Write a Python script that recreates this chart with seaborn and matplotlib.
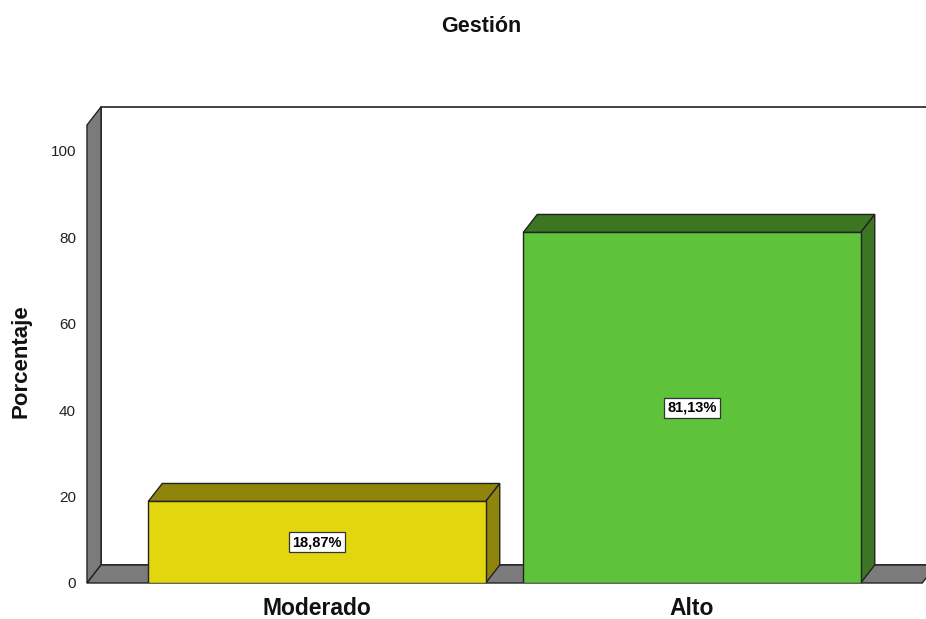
import matplotlib
matplotlib.use('Agg')
import matplotlib.pyplot as plt
import seaborn as sns
from matplotlib.patches import Polygon

# Data
categories = ['Moderado', 'Alto']
percentages = [18.87, 81.13]
value_labels = ['18,87%', '81,13%']

front_colors = ['#e2d70f', '#5ec23a']
dark_colors = ['#8f850c', '#3d7623']
wall_gray = '#7b7b7b'

sns.set_theme(style='white')
plt.rcParams['font.family'] = ['Liberation Sans', 'DejaVu Sans']

W, H = 926, 619
fig = plt.figure(figsize=(W / 100, H / 100), dpi=100)

# front plane of the 3D box (pixels from top-left in reference)
left_px, right_px, zero_px, top_px = 87, 926, 583, 125
ax = fig.add_axes([left_px / W, (H - zero_px) / H,
                   (right_px - left_px) / W, (zero_px - top_px) / H])

ymax = 106.0
x0 = (87 - 317) / 375
x1 = (926 - 317) / 375

sns.barplot(x=categories, y=percentages, hue=categories, palette=front_colors,
            width=0.9, edgecolor='#222222', linewidth=1.0, legend=False,
            ax=ax, zorder=3, saturation=1)
ax.set_xlim(x0, x1)
ax.set_ylim(0, ymax)

# depth offset in data units (14 px right, 18 px up)
xu = (right_px - left_px) / (x1 - x0)
yu = (zero_px - top_px) / ymax
dx = 14 / xu
dy = 18 / yu

# back wall
ax.add_patch(Polygon([(x0 + dx, dy), (x1 + dx + 1, dy), (x1 + dx + 1, ymax + dy),
                      (x0 + dx, ymax + dy)], closed=True, facecolor='white',
                     edgecolor='#222222', lw=1.2, zorder=0, clip_on=False))
# left wall
ax.add_patch(Polygon([(x0, 0), (x0, ymax), (x0 + dx, ymax + dy), (x0 + dx, dy)],
                     closed=True, facecolor=wall_gray, edgecolor='#222222',
                     lw=1.0, zorder=1, clip_on=False))
# floor
ax.add_patch(Polygon([(x0, 0), (x1 - 0.01, 0), (x1 - 0.01 + dx, dy), (x0 + dx, dy)],
                     closed=True, facecolor=wall_gray, edgecolor='#222222',
                     lw=1.0, zorder=1, clip_on=False))

# top and side faces of each bar
for i, v in enumerate(percentages):
    bl, br = i - 0.45, i + 0.45
    ax.add_patch(Polygon([(bl, v), (br, v), (br + dx, v + dy), (bl + dx, v + dy)],
                         closed=True, facecolor=dark_colors[i], edgecolor='#222222',
                         lw=1.0, zorder=2, clip_on=False))
    ax.add_patch(Polygon([(br, 0), (br, v), (br + dx, v + dy), (br + dx, dy)],
                         closed=True, facecolor=dark_colors[i], edgecolor='#222222',
                         lw=1.0, zorder=2, clip_on=False))
    ax.text(i, v / 2, value_labels[i], ha='center', va='center', fontsize=10.5,
            fontweight='bold', color='black', zorder=5,
            bbox=dict(boxstyle='square,pad=0.2', facecolor='white',
                      edgecolor='#333333', lw=0.9))

for s in ax.spines.values():
    s.set_visible(False)

ax.set_yticks([0, 20, 40, 60, 80, 100])
ax.tick_params(axis='y', length=0, pad=8, labelsize=11, colors='#222222')
ax.tick_params(axis='x', length=0, pad=10)
ax.set_xticks([0, 1])
ax.set_xticklabels(categories, fontsize=16.5, fontweight='bold', color='#111111')
ax.set_xlabel('')
ax.set_ylabel('Porcentaje', fontsize=16, fontweight='bold', color='#111111')
ax.yaxis.set_label_coords(-0.066, 0.485)

fig.text(481 / W, 1 - 26 / H, 'Gestión', ha='center', va='center',
         fontsize=15.5, fontweight='bold', color='#111111')

fig.savefig('out.png', dpi=100)
